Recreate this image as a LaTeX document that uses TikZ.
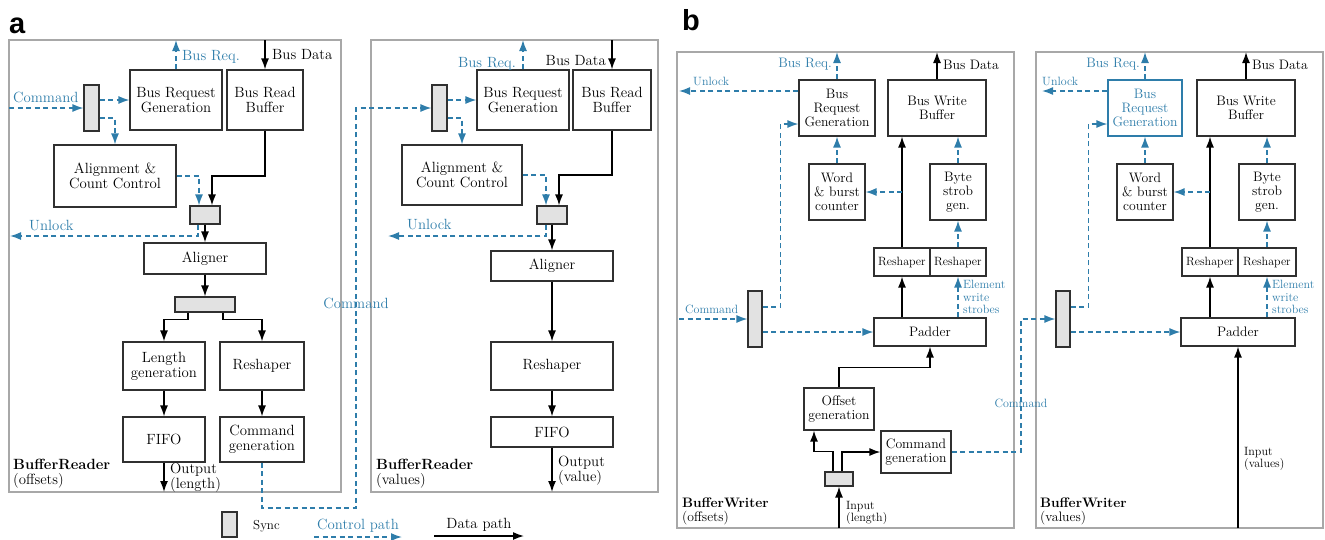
\documentclass[tikz,border=0pt]{standalone}
\usepackage{fontspec}
\newfontfamily\panelfont{Liberation Sans}
\usetikzlibrary{arrows.meta}
\definecolor{ctrlblue}{HTML}{2E7DAA}
\definecolor{framegray}{HTML}{A8A8A8}
\definecolor{syncgray}{HTML}{E2E2E2}
\definecolor{boxline}{HTML}{303030}
\newcommand{\txta}{\fontsize{14.8}{15}\selectfont}
\newcommand{\txtb}{\fontsize{13.7}{14}\selectfont}
\newcommand{\txts}{\fontsize{12}{12.3}\selectfont}

\begin{document}
\begin{tikzpicture}[
		x=1pt, y=-1pt,
		arrow/.style={-{Latex[length=11pt,width=8pt]}, line width=1.5pt},
		ctrl/.style={arrow, ctrlblue, line width=1.45pt, dash pattern=on 5pt off 3.5pt},
		block/.style={draw=boxline, line width=1.1pt, fill=white, align=center, inner sep=0pt, font=\txta},
		blockb/.style={block, font=\txtb},
		sync/.style={draw=boxline, line width=1.1pt, fill=syncgray, inner sep=0pt},
		frame/.style={draw=framegray, line width=1.5pt},
		lbl/.style={inner sep=0pt, font=\txta},
		lblb/.style={inner sep=0pt, font=\txtb},
		lbls/.style={inner sep=0pt, font=\txts},
		panel/.style={inner sep=0pt, anchor=base west, font={\panelfont\bfseries\fontsize{29}{29}\selectfont}},
	]
		\useasboundingbox (0,0) rectangle (1325,539);

		% a: BufferReader (offsets)
		\node (pa) [panel] at (9,33) {a};
		\draw[frame] (9,40) rectangle (341,492);
		\node (s1) [sync, minimum width=15pt, minimum height=46pt] at (91.5,108) {};
		\node (brg1) [block, minimum width=92pt, minimum height=60pt] at (176,100) {Bus Request\\Generation};
		\node (brb1) [block, minimum width=76pt, minimum height=60pt] at (265,100) {Bus Read\\Buffer};
		\node (acc1) [block, minimum width=122pt, minimum height=62pt] at (115,176) {Alignment \&\\Count Control};
		\node (s2) [sync, minimum width=30pt, minimum height=18pt] at (205,215) {};
		\node (al1) [block, minimum width=122pt, minimum height=31pt] at (205,258.5) {Aligner};
		\node (s3) [sync, minimum width=60pt, minimum height=15pt] at (205,304.5) {};
		\node (lg1) [block, minimum width=82pt, minimum height=48pt] at (164,366) {Length\\generation};
		\node (rs1) [block, minimum width=84pt, minimum height=48pt] at (262,366) {Reshaper};
		\node (ff1) [block, minimum width=82pt, minimum height=45pt] at (164,439.5) {FIFO};
		\node (cg1) [block, minimum width=84pt, minimum height=45pt] at (262,439.5) {Command\\generation};
		\coordinate (cin1) at (9,108);
		\coordinate (req1) at (176,40);
		\coordinate (dat1) at (265,40);
		\coordinate (unl1) at (10,236);
		\coordinate (out1) at (164,492);
		\coordinate (cb1) at (356,508);

		\draw[ctrl] (cin1) -- (s1);
		\draw[ctrl] (s1.east |- brg1) -- (brg1);
		\draw[ctrl] ([yshift=-10pt]s1.east) -| (acc1);
		\draw[ctrl] (brg1) -- (req1);
		\draw[arrow] (dat1) -- (brb1);
		\draw[ctrl] (acc1) -| ([xshift=-6pt]s2.north);
		\draw[arrow] (brb1) -- (brb1.south |- acc1) -| ([xshift=7pt]s2.north);
		\draw[ctrl] ([xshift=-7pt]s2.south) |- (unl1);
		\draw[arrow] (s2) -- (al1);
		\draw[arrow] (al1) -- (s3);
		\draw[arrow] ([xshift=-17pt]s3.south) -- ++(0,7) -| (lg1);
		\draw[arrow] ([xshift=18pt]s3.south) -- ++(0,7) -| (rs1);
		\draw[arrow] (lg1) -- (ff1);
		\draw[arrow] (rs1) -- (cg1);
		\draw[arrow] (ff1) -- (out1);

		\node (lcmd1) [lbl, text=ctrlblue, anchor=base west] at (13,102) {Command};
		\node (lreq1) [lbl, text=ctrlblue, anchor=base west] at (182,60) {Bus Req.};
		\node (ldat1) [lbl, anchor=base west] at (272,59) {Bus Data};
		\node (lunl1) [lbl, text=ctrlblue, anchor=base west] at (29,230) {Unlock};
		\node (lout1) [lbl, anchor=west, align=left] at (170,477.5) {Output\\(length)};
		\node (lbr1) [lbl, anchor=west, align=left] at (13,473.5) {\textbf{BufferReader}\\(offsets)};

		% a: BufferReader (values)
		\draw[frame] (371,40) rectangle (658,492);
		\node (s4) [sync, minimum width=15pt, minimum height=46pt] at (439.5,108) {};
		\node (brg2) [block, minimum width=92pt, minimum height=60pt] at (523,100) {Bus Request\\Generation};
		\node (brb2) [block, minimum width=78pt, minimum height=60pt] at (612,100) {Bus Read\\Buffer};
		\node (acc2) [block, minimum width=120pt, minimum height=60pt] at (462,175) {Alignment \&\\Count Control};
		\node (s5) [sync, minimum width=30pt, minimum height=18pt] at (552,215) {};
		\node (al2) [block, minimum width=122pt, minimum height=30pt] at (552,266) {Aligner};
		\node (rs2) [block, minimum width=122pt, minimum height=48pt] at (552,366) {Reshaper};
		\node (ff2) [block, minimum width=122pt, minimum height=30pt] at (552,432) {FIFO};
		\coordinate (req2) at (523,40);
		\coordinate (dat2) at (612,40);
		\coordinate (unl2) at (388,236);
		\coordinate (out2) at (552,492);

		\draw[ctrl] (cg1) |- (cb1) |- (s4);
		\node (lcmd2) [lbl, text=ctrlblue] at (356,303) {Command};
		\draw[ctrl] (s4.east |- brg2) -- (brg2);
		\draw[ctrl] ([yshift=-10pt]s4.east) -| (acc2);
		\draw[ctrl] (brg2) -- (req2);
		\draw[arrow] (dat2) -- (brb2);
		\draw[ctrl] (acc2) -| ([xshift=-6pt]s5.north);
		\draw[arrow] (brb2) -- (brb2.south |- acc2) -| ([xshift=7pt]s5.north);
		\draw[ctrl] ([xshift=-6pt]s5.south) |- (unl2);
		\draw[arrow] (s5) -- (al2);
		\draw[arrow] (al2) -- (rs2);
		\draw[arrow] (rs2) -- (ff2);
		\draw[arrow] (ff2) -- (out2);

		\node (lreq2) [lbl, text=ctrlblue, anchor=base east] at (516,67) {Bus Req.};
		\node (ldat2) [lbl, anchor=base east] at (606,65) {Bus Data};
		\node (lunl2) [lbl, text=ctrlblue, anchor=base west] at (407,229) {Unlock};
		\node (lout2) [lbl, anchor=west, align=left] at (558,471) {Output\\(value)};
		\node (lbr2) [lbl, anchor=west, align=left] at (376,473.5) {\textbf{BufferReader}\\(values)};

		% legend
		\node (sl) [sync, minimum width=15pt, minimum height=25pt] at (229.5,524.5) {};
		\node (lsync) [lbl, font=\fontsize{13}{13}\selectfont, anchor=base west] at (253,529) {Sync};
		\coordinate (cp0) at (314,537);
		\coordinate (cp1) at (402,537);
		\coordinate (dp0) at (434,536);
		\coordinate (dp1) at (524,536);
		\draw[ctrl] (cp0) -- node[lbl, text=ctrlblue, above=4pt] (lcp) {Control path} (cp1);
		\draw[arrow] (dp0) -- node[lbl, above=4pt] (ldp) {Data path} (dp1);

		% b: BufferWriter (offsets)
		\node (pb) [panel] at (682,30) {b};
		\draw[frame] (677,52) rectangle (1014,528);
		\node (brg3) [blockb, minimum width=76pt, minimum height=56pt] at (837,108) {Bus\\Request\\Generation};
		\node (bwb3) [blockb, minimum width=98pt, minimum height=56pt] at (937,108) {Bus Write\\Buffer};
		\node (wbc3) [blockb, minimum width=56pt, minimum height=56pt] at (837,192) {Word\\\& burst\\counter};
		\node (bsg3) [blockb, minimum width=56pt, minimum height=56pt] at (958,192) {Byte\\strob\\gen.};
		\node (rsa3) [blockb, font=\txts, minimum width=56pt, minimum height=28pt] at (902,262) {Reshaper};
		\node (rsb3) [blockb, font=\txts, minimum width=56pt, minimum height=28pt] at (958,262) {Reshaper};
		\node (pd3) [blockb, minimum width=112pt, minimum height=28pt] at (930,332) {Padder};
		\node (s6) [sync, minimum width=14pt, minimum height=56pt] at (755,319) {};
		\node (og3) [blockb, minimum width=70pt, minimum height=42pt] at (839,409) {Offset\\generation};
		\node (cg3) [blockb, minimum width=70pt, minimum height=42pt] at (916,452) {Command\\generation};
		\node (s7) [sync, minimum width=28pt, minimum height=14pt] at (839,479) {};
		\coordinate (req3) at (837,52);
		\coordinate (dat3) at (937,52);
		\coordinate (unl3) at (679,91);
		\coordinate (cin3) at (679,319);
		\coordinate (in3) at (839,528);
		\coordinate (cb2) at (1021,319);

		\draw[ctrl] (brg3) -- (req3);
		\draw[arrow] (bwb3) -- (dat3);
		\draw[ctrl] ([yshift=17pt]brg3.west) -- (unl3);
		\draw[ctrl] (wbc3) -- (brg3);
		\draw[ctrl] (bsg3) -- (bsg3 |- bwb3.south);
		\draw[arrow] (rsa3) -- (rsa3 |- bwb3.south);
		\draw[ctrl] (rsa3 |- wbc3) -- (wbc3);
		\draw[ctrl] (rsb3) -- (bsg3);
		\draw[arrow] (pd3.north -| rsa3) -- (rsa3);
		\draw[ctrl] (pd3.north -| rsb3) -- (rsb3);
		\draw[ctrl] (cin3) -- (s6);
		\draw[ctrl] ([yshift=12pt]s6.east) -| ([xshift=-18pt,yshift=-16pt]brg3.west) -- ([yshift=-16pt]brg3.west);
		\draw[ctrl] (s6.east |- pd3) -- (pd3);
		\draw[arrow] (og3.north) -- ++(0,-20) -| (pd3);
		\draw[arrow] ([xshift=-6pt]s7.north) -- ++(0,-20) -| ([xshift=-25pt]og3.south);
		\draw[arrow] ([xshift=3pt]s7.north) |- (cg3);
		\draw[arrow] (in3) -- (s7);

		\node (lreq3) [lblb, text=ctrlblue, anchor=base east] at (832,67) {Bus Req.};
		\node (ldat3) [lblb, anchor=base west] at (943,69) {Bus Data};
		\node (lunl3) [lbls, text=ctrlblue, anchor=base west] at (693,85) {Unlock};
		\node (lcmd3) [lbls, text=ctrlblue, anchor=base west] at (685,313) {Command};
		\node (lstr3) [lbls, text=ctrlblue, anchor=west, align=left] at (963,297) {Element\\write\\strobes};
		\node (lin3) [lbls, anchor=west, align=left] at (846,513) {Input\\(length)};
		\node (lbw3) [lblb, anchor=west, align=left] at (682,511) {\textbf{BufferWriter}\\(offsets)};

		% b: BufferWriter (values)
		\draw[frame] (1036,52) rectangle (1323,528);
		\node (brg4) [blockb, draw=ctrlblue, text=ctrlblue, minimum width=74pt, minimum height=56pt] at (1145,108) {Bus\\Request\\Generation};
		\node (bwb4) [blockb, minimum width=98pt, minimum height=56pt] at (1246,108) {Bus Write\\Buffer};
		\node (wbc4) [blockb, minimum width=56pt, minimum height=56pt] at (1145,192) {Word\\\& burst\\counter};
		\node (bsg4) [blockb, minimum width=56pt, minimum height=56pt] at (1267,192) {Byte\\strob\\gen.};
		\node (rsa4) [blockb, font=\txts, minimum width=56pt, minimum height=28pt] at (1210,262) {Reshaper};
		\node (rsb4) [blockb, font=\txts, minimum width=58pt, minimum height=28pt] at (1267,262) {Reshaper};
		\node (pd4) [blockb, minimum width=114pt, minimum height=28pt] at (1238,332) {Padder};
		\node (s8) [sync, minimum width=14pt, minimum height=56pt] at (1063,319) {};
		\coordinate (req4) at (1145,52);
		\coordinate (dat4) at (1246,52);
		\coordinate (unl4) at (1042,91);
		\coordinate (in4) at (1238,528);

		\draw[ctrl] (cg3) -| (cb2) -- (s8);
		\node (lcmd4) [lbls, text=ctrlblue] at (1021,403) {Command};
		\draw[ctrl] (brg4) -- (req4);
		\draw[arrow] (bwb4) -- (dat4);
		\draw[ctrl] ([yshift=17pt]brg4.west) -- (unl4);
		\draw[ctrl] (wbc4) -- (brg4);
		\draw[ctrl] (bsg4) -- (bsg4 |- bwb4.south);
		\draw[arrow] (rsa4) -- (rsa4 |- bwb4.south);
		\draw[ctrl] (rsa4 |- wbc4) -- (wbc4);
		\draw[ctrl] (rsb4) -- (bsg4);
		\draw[arrow] (pd4.north -| rsa4) -- (rsa4);
		\draw[ctrl] (pd4.north -| rsb4) -- (rsb4);
		\draw[ctrl] ([yshift=12pt]s8.east) -| ([xshift=-19pt,yshift=-16pt]brg4.west) -- ([yshift=-16pt]brg4.west);
		\draw[ctrl] (s8.east |- pd4) -- (pd4);
		\draw[arrow] (in4) -- (pd4);

		\node (lreq4) [lblb, text=ctrlblue, anchor=base east] at (1140,67) {Bus Req.};
		\node (ldat4) [lblb, anchor=base west] at (1252,69) {Bus Data};
		\node (lunl4) [lbls, text=ctrlblue, anchor=base west] at (1042,85) {Unlock};
		\node (lstr4) [lbls, text=ctrlblue, anchor=west, align=left] at (1272,297) {Element\\write\\strobes};
		\node (lin4) [lbls, anchor=west, align=left] at (1244,459) {Input\\(values)};
		\node (lbw4) [lblb, anchor=west, align=left] at (1040,511) {\textbf{BufferWriter}\\(values)};
	\end{tikzpicture}
\end{document}
